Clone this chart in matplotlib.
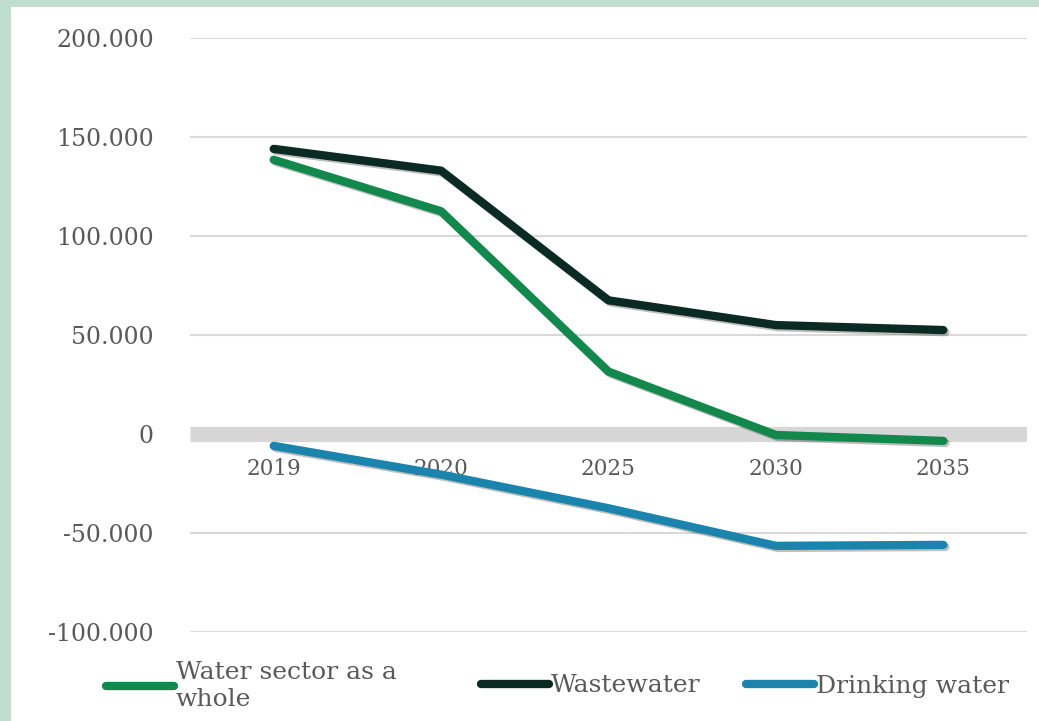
import matplotlib
matplotlib.use("Agg")
import matplotlib.pyplot as plt
import matplotlib.patheffects as pe
from matplotlib.patches import Rectangle
from matplotlib.lines import Line2D

years = ["2019", "2020", "2025", "2030", "2035"]
water_sector = [138500, 112500, 31500, -500, -3500]
wastewater = [144000, 133000, 67500, 55000, 52500]
drinking_water = [-6000, -20500, -37500, -56500, -56000]
yticks = [-100000, -50000, 0, 50000, 100000, 150000, 200000]
ytick_labels = ["-100.000", "-50.000", "0", "50.000", "100.000", "150.000", "200.000"]
series_labels = ["Water sector as a\nwhole", "Wastewater", "Drinking water"]

c_green = "#12884d"
c_dark = "#0b2b22"
c_blue = "#1a84ad"
c_text = "#595959"
c_grid = "#d9d9d9"

plt.rcParams["font.family"] = ["DejaVu Serif"]

W, H = 1039, 721
fig = plt.figure(figsize=(W / 100, H / 100), dpi=100)
fig.patch.set_facecolor("white")
fig.add_artist(Rectangle((0, 1 - 7 / H), 1, 7 / H, transform=fig.transFigure,
                         facecolor="#bfded1", edgecolor="none", zorder=0))
fig.add_artist(Rectangle((0, 0), 11 / W, 1, transform=fig.transFigure,
                         facecolor="#bfded1", edgecolor="none", zorder=0))

ax = fig.add_axes([190 / W, (H - 632) / H, (1027 - 190) / W, (632 - 38) / H])
ax.set_facecolor("white")
xpos = [i + 0.5 for i in range(len(years))]

ax.set_xlim(0, len(years))
ax.set_ylim(-100000, 200000)

for yv in yticks:
    if yv != 0:
        ax.axhline(yv, color=c_grid, lw=1.5, zorder=1)
ax.axhline(0, color="#d6d6d6", lw=11, zorder=1, solid_capstyle="butt")

shadow = [pe.SimpleLineShadow(offset=(1.5, -1.5), alpha=0.25, shadow_color="black"), pe.Normal()]
lines = []
for data, col, lab in [(water_sector, c_green, series_labels[0]),
                       (wastewater, c_dark, series_labels[1]),
                       (drinking_water, c_blue, series_labels[2])]:
    ln, = ax.plot(xpos, data, color=col, lw=6, solid_capstyle="round",
                  solid_joinstyle="round", path_effects=shadow, zorder=3, label=lab)
    lines.append(ln)

ax.set_yticks(yticks)
ax.set_yticklabels(ytick_labels, color=c_text, fontsize=17)
ax.tick_params(axis="y", length=0, pad=26)

ax.set_xticks([])
for xp, lab in zip(xpos, years):
    ax.annotate(lab, xy=(xp, 0), xytext=(0, -25), textcoords="offset points",
                ha="center", va="center", fontsize=15.5, color=c_text, zorder=2)

for s in ax.spines.values():
    s.set_visible(False)

leg_x = [106, 481, 746]
for ln, lx in zip(lines, leg_x):
    h = Line2D([], [], color=ln.get_color(), lw=6, solid_capstyle="round")
    fig.legend([h], [ln.get_label()], loc="center left",
               bbox_to_anchor=(lx / W, 1 - 686 / H), frameon=False,
               fontsize=18, handlelength=2.7, handletextpad=0.1,
               borderaxespad=0, borderpad=0, labelcolor=c_text)

fig.savefig("out.png", dpi=100, facecolor="white")
